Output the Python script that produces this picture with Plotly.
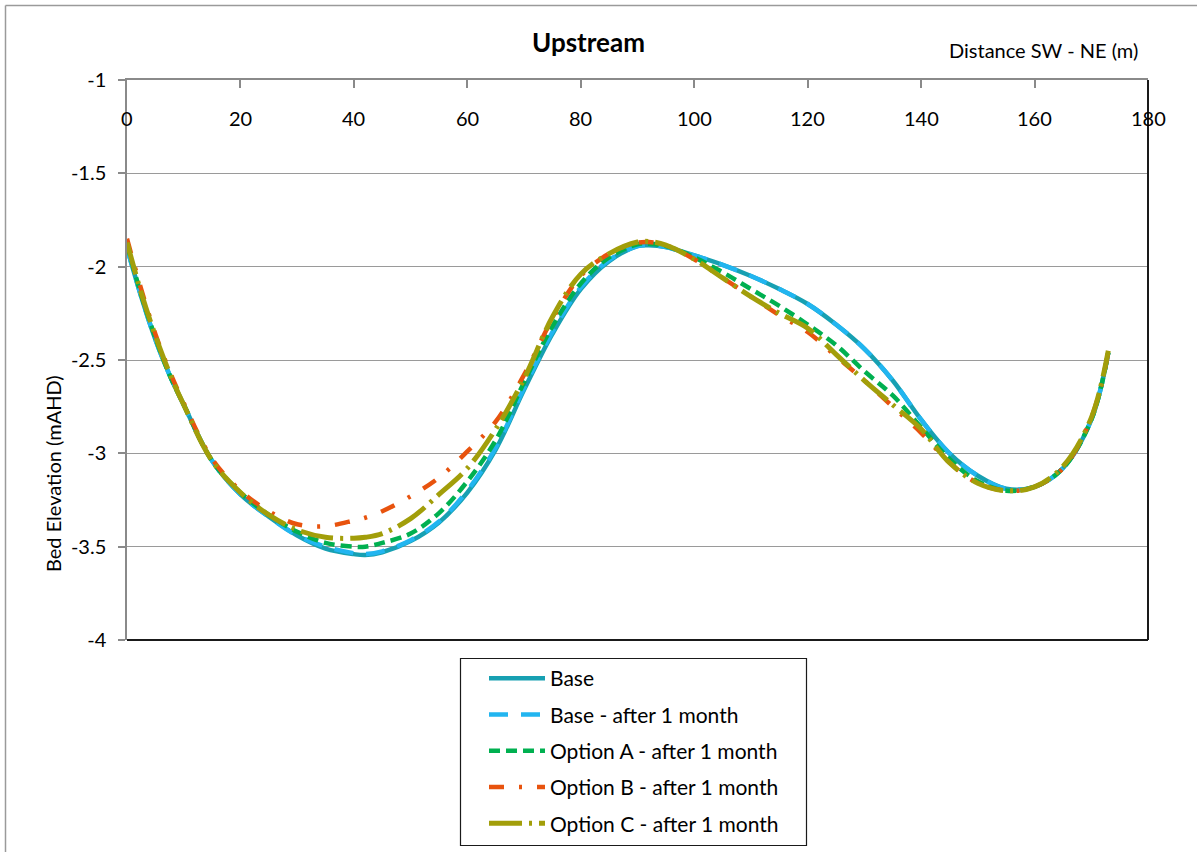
import plotly.graph_objects as go

# ---------------- data ----------------
distance = [0, 2.5, 5, 7.5, 10, 15, 20, 25, 30, 35, 40, 42, 45, 50, 55, 60, 65, 70,
            75, 80, 85, 90, 92, 95, 100, 105, 110, 115, 120, 125, 130, 135, 140,
            145, 150, 155, 160, 165, 170, 173]

base = [-1.90, -2.16, -2.39, -2.58, -2.74, -3.04, -3.22, -3.34, -3.44, -3.51, -3.54,
        -3.545, -3.53, -3.47, -3.37, -3.21, -2.98, -2.66, -2.36, -2.12, -1.97, -1.89,
        -1.885, -1.895, -1.94, -1.99, -2.05, -2.12, -2.20, -2.31, -2.44, -2.61, -2.82,
        -3.00, -3.12, -3.19, -3.18, -3.08, -2.82, -2.46]

base_1m = [-1.90, -2.16, -2.39, -2.58, -2.74, -3.04, -3.22, -3.34, -3.44, -3.50, -3.535,
           -3.54, -3.525, -3.465, -3.365, -3.20, -2.97, -2.65, -2.35, -2.11, -1.965, -1.89,
           -1.884, -1.895, -1.94, -1.99, -2.05, -2.12, -2.20, -2.31, -2.44, -2.61, -2.82,
           -3.00, -3.12, -3.19, -3.18, -3.08, -2.82, -2.46]

option_a = [-1.88, -2.15, -2.38, -2.58, -2.74, -3.04, -3.21, -3.33, -3.42, -3.48, -3.50,
            -3.50, -3.48, -3.43, -3.32, -3.15, -2.93, -2.62, -2.32, -2.09, -1.95, -1.88,
            -1.877, -1.89, -1.95, -2.03, -2.12, -2.21, -2.31, -2.42, -2.56, -2.69, -2.86,
            -3.03, -3.15, -3.20, -3.18, -3.08, -2.82, -2.46]

option_b = [-1.85, -2.12, -2.36, -2.56, -2.73, -3.03, -3.20, -3.31, -3.38, -3.39, -3.36,
            -3.345, -3.31, -3.23, -3.13, -2.99, -2.83, -2.58, -2.28, -2.05, -1.93, -1.872,
            -1.868, -1.885, -1.96, -2.06, -2.16, -2.26, -2.35, -2.48, -2.61, -2.75, -2.89,
            -3.05, -3.16, -3.20, -3.18, -3.08, -2.81, -2.46]

option_c = [-1.87, -2.14, -2.37, -2.57, -2.74, -3.04, -3.21, -3.33, -3.41, -3.45, -3.455,
            -3.45, -3.43, -3.35, -3.22, -3.08, -2.87, -2.60, -2.27, -2.04, -1.93, -1.868,
            -1.865, -1.885, -1.96, -2.06, -2.16, -2.25, -2.33, -2.47, -2.61, -2.74, -2.87,
            -3.05, -3.16, -3.20, -3.18, -3.07, -2.81, -2.45]

series_names = ["Base", "Base - after 1 month", "Option A - after 1 month",
                "Option B - after 1 month", "Option C - after 1 month"]

x_ticks = [0, 20, 40, 60, 80, 100, 120, 140, 160, 180]
x_tick_text = ["0", "20", "40", "60", "80", "100", "120", "140", "160", "180"]
y_ticks = [-1, -1.5, -2, -2.5, -3, -3.5, -4]
y_tick_text = ["-1", "-1.5", "-2", "-2.5", "-3", "-3.5", "-4"]

# ---------------- styles ----------------
FONT = "Lato, 'Open Sans', sans-serif"
styles = [
    dict(color="#17A0B2", width=4.5, dash="solid"),
    dict(color="#22B5F0", width=4.5, dash="19px,13px"),
    dict(color="#00B050", width=4.5, dash="11px,6px"),
    dict(color="#E8530E", width=4.5, dash="15px,15px,3px,15px"),
    dict(color="#A29E0A", width=5, dash="33px,7px,3px,7px"),
]
all_series = [base, base_1m, option_a, option_b, option_c]

fig = go.Figure()
for name, ys, st in zip(series_names, all_series, styles):
    fig.add_trace(go.Scatter(
        x=distance, y=ys, name=name, mode="lines",
        line=dict(color=st["color"], width=st["width"], dash=st["dash"],
                  shape="spline", smoothing=1.0),
        legendgroup=name,
    ))

W, H = 1197, 852
L, R, T, B = 127, 1148, 80, 640


def px_x(p):
    return (p - L) / (R - L)


def px_y(p):
    return (B - p) / (B - T)


annotations = [
    dict(text="<b>Upstream</b>", xref="paper", yref="paper",
         x=px_x(588), y=px_y(42), xanchor="center", yanchor="middle",
         showarrow=False, font=dict(family=FONT, size=26, color="#000000")),
    dict(text="Distance SW - NE (m)", xref="paper", yref="paper",
         x=px_x(1043), y=px_y(50), xanchor="center", yanchor="middle",
         showarrow=False, font=dict(family=FONT, size=20, color="#000000")),
    dict(text="Bed Elevation (mAHD)", xref="paper", yref="paper",
         x=px_x(53), y=px_y(474), xanchor="center", yanchor="middle",
         textangle=-90, showarrow=False,
         font=dict(family=FONT, size=20, color="#000000")),
]
# x tick labels sit just below the top axis line, inside the plot area
for v, t in zip(x_ticks, x_tick_text):
    annotations.append(dict(
        text=t, xref="x", yref="paper", x=v, y=px_y(118),
        xanchor="center", yanchor="middle", showarrow=False,
        font=dict(family=FONT, size=20, color="#000000")))

fig.update_layout(
    width=W, height=H,
    margin=dict(l=L, r=W - R, t=T, b=H - B, autoexpand=False),
    paper_bgcolor="white", plot_bgcolor="white",
    font=dict(family=FONT, size=20, color="#000000"),
    showlegend=True,
    legend=dict(
        x=px_x(484), y=px_y(658), xanchor="left", yanchor="top",
        borderwidth=0, bgcolor="rgba(0,0,0,0)",
        font=dict(family=FONT, size=21, color="#000000"),
        traceorder="grouped", tracegroupgap=6, itemwidth=56,
    ),
    xaxis=dict(
        range=[0, 180], side="top", tickmode="array",
        tickvals=x_ticks, ticktext=x_tick_text, showticklabels=False,
        ticks="inside", ticklen=8, tickcolor="#8a8a8a", tickwidth=1.5,
        showline=True, linecolor="#8a8a8a", linewidth=1.5,
        showgrid=False, zeroline=False,
    ),
    yaxis=dict(
        range=[-4, -1], tickmode="array", tickvals=y_ticks, ticktext=y_tick_text,
        ticks="outside", ticklen=7, tickcolor="#8a8a8a", tickwidth=1.5,
        ticklabelstandoff=8,
        showline=True, linecolor="#8a8a8a", linewidth=1.5,
        showgrid=True, gridcolor="#9a9a9a", gridwidth=1.2, zeroline=False,
        tickfont=dict(family=FONT, size=20, color="#000000"),
    ),
    shapes=[
        # outer chart frame: only its left and top edges are inside the picture
        dict(type="line", xref="paper", yref="paper",
             x0=px_x(5.5), x1=px_x(5.5), y0=px_y(852), y1=px_y(5.5),
             line=dict(color="#9a9a9a", width=1.5), layer="below"),
        dict(type="line", xref="paper", yref="paper",
             x0=px_x(5.5), x1=px_x(1197), y0=px_y(5.5), y1=px_y(5.5),
             line=dict(color="#9a9a9a", width=1.5), layer="below"),
        # legend box
        dict(type="rect", xref="paper", yref="paper",
             x0=px_x(460.5), x1=px_x(806.5), y0=px_y(845.5), y1=px_y(658.5),
             line=dict(color="#1a1a1a", width=1.2), fillcolor="white",
             layer="below"),
        # plot-area border bottom and right
        dict(type="line", xref="paper", yref="paper", x0=0, x1=1, y0=0, y1=0,
             line=dict(color="#1a1a1a", width=2)),
        dict(type="line", xref="paper", yref="paper", x0=1, x1=1, y0=0, y1=1,
             line=dict(color="#1a1a1a", width=2)),
    ],
    annotations=annotations,
)

fig.write_html("out.html")
